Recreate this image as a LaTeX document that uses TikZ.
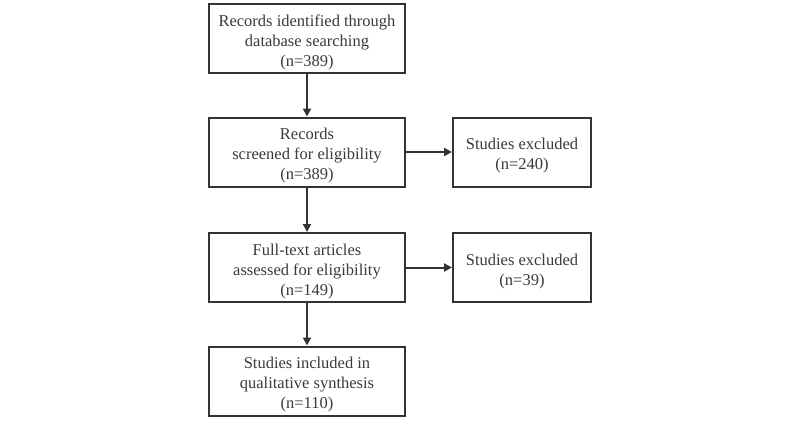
\documentclass[tikz,border=0pt]{standalone}
\usepackage{fontspec}
\setmainfont{Liberation Serif}
\usetikzlibrary{arrows.meta}
\definecolor{txt}{HTML}{3A3A3A}
\definecolor{edge}{HTML}{333333}
\newcommand\toprule{\rule{0pt}{19pt}}
\begin{document}
\begin{tikzpicture}[x=1pt,y=-1pt,
  box/.style={draw=edge, line width=2pt, text=txt, align=center, inner sep=0pt,
    font=\fontsize{16.5}{20}\selectfont},
  lbox/.style={box, minimum width=196pt, minimum height=69pt},
  rbox/.style={box, minimum width=138pt, minimum height=69pt},
  arr/.style={draw=edge, line width=2pt, -{Triangle[length=8pt,width=8pt]}}]
\useasboundingbox[fill=white] (0,0) rectangle (800,421);
\node[lbox] (a) at (307,38.5) {\toprule Records identified through\\database searching\\(n=389)};
\node[lbox] (b) at (307,152) {\toprule Records\\screened for eligibility\\(n=389)};
\node[lbox] (c) at (307,267.5) {\toprule Full-text articles\\assessed for eligibility\\(n=149)};
\node[lbox] (d) at (307,381) {\toprule Studies included in\\qualitative synthesis\\(n=110)};
\node[rbox] (e) at (522,152) {\toprule Studies excluded\\(n=240)};
\node[rbox] (f) at (522,267.5) {\toprule Studies excluded\\(n=39)};
\draw[arr] (a) -- (b);
\draw[arr] (b) -- (c);
\draw[arr] (c) -- (d);
\draw[arr] (b) -- (e);
\draw[arr] (c) -- (f);
\end{tikzpicture}
\end{document}
